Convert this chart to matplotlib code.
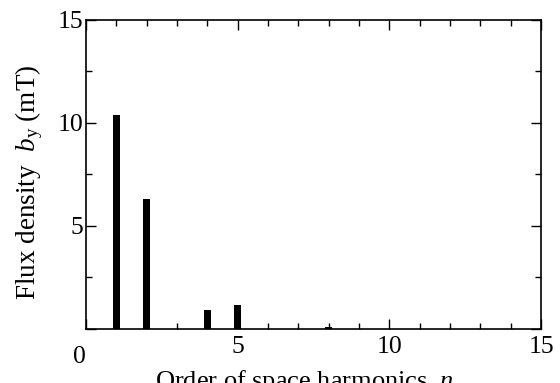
import numpy as np
import matplotlib.pyplot as plt
from matplotlib.ticker import MultipleLocator

# Space harmonic spectrum of the flux density
orders = [1, 2, 4, 5, 8]
flux_mT = [10.37, 6.33, 0.92, 1.15, 0.12]

plt.rcParams['font.family'] = ['Liberation Serif', 'DejaVu Serif']
plt.rcParams['mathtext.fontset'] = 'custom'
plt.rcParams['mathtext.rm'] = 'Liberation Serif'
plt.rcParams['mathtext.it'] = 'Liberation Serif:italic'

fig = plt.figure(figsize=(5.6, 3.83), dpi=100)
ax = fig.add_axes([0.1536, 0.141, 0.8125, 0.807])

ax.bar(orders, flux_mT, width=0.24, color='black')

ax.set_xlim(0, 15)
ax.set_ylim(0, 15)
ax.xaxis.set_minor_locator(MultipleLocator(1))
ax.yaxis.set_minor_locator(MultipleLocator(2.5))
ax.tick_params(which='both', direction='in', top=True, right=True, width=1)
ax.tick_params(which='major', length=7, labelsize=18.5)
ax.tick_params(axis='x', which='major', pad=5)
ax.tick_params(axis='y', which='major', pad=2)
ax.tick_params(which='minor', length=4)
for s in ax.spines.values():
    s.set_linewidth(1.2)

# hide the 0 labels, the origin gets one shared "0"
ax.set_xticks([0, 5, 10, 15])
ax.set_xticklabels(['', '5', '10', '15'])
ax.set_yticks([0, 5, 10, 15])
ax.set_yticklabels(['', '5', '10', '15'])
ax.text(-0.015, -0.09, '0', transform=ax.transAxes, fontsize=18.5,
        ha='center', va='center')

ax.set_ylabel(r'Flux density  $b_{\mathrm{y}}$ (mT)', fontsize=19.5)
ax.yaxis.set_label_coords(-0.09, 0.476)
ax.set_xlabel(r'Order of space harmonics  $n$', fontsize=19)
ax.xaxis.set_label_coords(0.481, -0.126)

fig.savefig('out.png', dpi=100)
